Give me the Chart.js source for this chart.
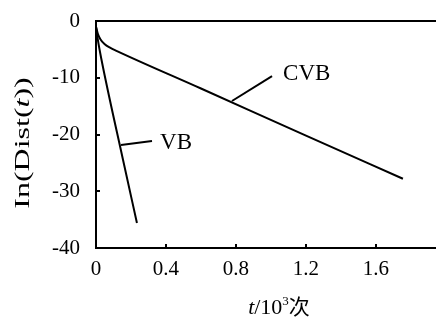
<!DOCTYPE html>
<html>
<head>
<meta charset="utf-8">
<script src="https://cdn.jsdelivr.net/npm/chart.js@4.4.1/dist/chart.umd.min.js"></script>
<style>
html, body { margin: 0; padding: 0; background: #fff; }
#wrap { width: 436px; height: 321px; }
</style>
</head>
<body>
<div id="wrap"><canvas id="dist_chart"></canvas></div>
<script>
// values (t in 10^3 steps, ln(Dist(t)))
const cvb_t = [0, 0.01, 0.025, 0.05, 0.08, 0.12, 0.6, 1.2, 1.754];
const cvb_ln = [-1.0, -2.2, -3.2, -4.1, -4.7, -5.3, -11.9, -20.2, -27.8];
const vb_t = [0, 0.01, 0.03, 0.154, 0.234];
const vb_ln = [-1.0, -3.2, -6.6, -24.4, -35.6];
const x_ticks = [0, 0.4, 0.8, 1.2, 1.6];
const y_ticks = [0, -10, -20, -30, -40];

// label anchors, in data units: leader start, leader end, text left
const vb_label = { from: [0.143, -21.85], to: [0.32, -21.15], text: [0.366, -21.5] };
const cvb_label = { from: [0.777, -14.1], to: [1.006, -9.7], text: [1.069, -9.3] };

const serif = '"Liberation Serif", "DejaVu Serif", serif';
Chart.defaults.font.family = serif;
Chart.defaults.font.size = 21;
Chart.defaults.color = '#000';

function toPoints(xs, ys) {
    return xs.map((v, i) => ({ x: v, y: ys[i] }));
}

function noPadding(s) {
    s.paddingTop = 0;
    s.paddingBottom = 0;
    s.paddingLeft = 0;
    s.paddingRight = 0;
}

const decor = {
    id: 'decor',
    afterDatasetsDraw(chart) {
        const ctx = chart.ctx;
        const x = chart.scales.x;
        const y = chart.scales.y;
        const area = chart.chartArea;
        ctx.save();
        ctx.strokeStyle = '#000';
        ctx.fillStyle = '#000';
        ctx.lineWidth = 2;

        // inward tick marks
        ctx.beginPath();
        y_ticks.slice(1, -1).forEach(v => {
            const py = Math.round(y.getPixelForValue(v));
            ctx.moveTo(area.left, py);
            ctx.lineTo(area.left + 4, py);
        });
        x_ticks.slice(1).forEach(v => {
            const px = Math.round(x.getPixelForValue(v));
            ctx.moveTo(px, area.bottom);
            ctx.lineTo(px, area.bottom - 4);
        });
        ctx.stroke();

        // series labels with leader lines
        [[vb_label, 'VB'], [cvb_label, 'CVB']].forEach(([lab, txt]) => {
            ctx.beginPath();
            ctx.moveTo(x.getPixelForValue(lab.from[0]), y.getPixelForValue(lab.from[1]));
            ctx.lineTo(x.getPixelForValue(lab.to[0]), y.getPixelForValue(lab.to[1]));
            ctx.stroke();
            ctx.font = '23px ' + serif;
            ctx.textAlign = 'left';
            ctx.textBaseline = 'middle';
            ctx.fillText(txt, x.getPixelForValue(lab.text[0]), y.getPixelForValue(lab.text[1]));
        });

        // x axis title: t/10^3次
        ctx.textBaseline = 'alphabetic';
        const parts = [
            ['t', 'italic 22px ' + serif, 0],
            ['/10', '22px ' + serif, 0],
            ['3', '13px ' + serif, -9],
            ['次', '21px "Noto Sans CJK SC", sans-serif', 0]
        ];
        let total = 0;
        parts.forEach(p => { ctx.font = p[1]; total += ctx.measureText(p[0]).width; });
        let cx = 279 - total / 2;
        parts.forEach(p => {
            ctx.font = p[1];
            ctx.fillText(p[0], cx, 314 + p[2]);
            cx += ctx.measureText(p[0]).width;
        });

        // y axis title: In(Dist(t)), rotated and stretched like the source
        const yparts = [
            ['In(Dist(', '20px ' + serif],
            ['t', 'italic 20px ' + serif],
            ['))', '20px ' + serif]
        ];
        let ytotal = 0;
        yparts.forEach(p => { ctx.font = p[1]; ytotal += ctx.measureText(p[0]).width; });
        ctx.translate(29, 143);
        ctx.rotate(-Math.PI / 2);
        ctx.scale(1.6, 1);
        let ty = -ytotal / 2;
        yparts.forEach(p => {
            ctx.font = p[1];
            ctx.fillText(p[0], ty, 0);
            ty += ctx.measureText(p[0]).width;
        });
        ctx.restore();
    }
};

const dist_chart = document.getElementById('dist_chart').getContext('2d');
new Chart(dist_chart, {
    type: 'line',
    data: {
        datasets: [{
            label: 'CVB',
            data: toPoints(cvb_t, cvb_ln),
            borderColor: '#000',
            borderWidth: 2,
            pointRadius: 0,
            cubicInterpolationMode: 'monotone',
            fill: false
        }, {
            label: 'VB',
            data: toPoints(vb_t, vb_ln),
            borderColor: '#000',
            borderWidth: 2,
            pointRadius: 0,
            cubicInterpolationMode: 'monotone',
            fill: false
        }]
    },
    options: {
        responsive: true,
        maintainAspectRatio: false,
        animation: false,
        layout: { padding: { top: 21, right: 0, bottom: 0, left: 0 } },
        plugins: {
            legend: { display: false },
            tooltip: { enabled: false },
            title: { display: false }
        },
        scales: {
            x: {
                type: 'linear',
                min: 0,
                max: 1.943,
                afterBuildTicks: s => { s.ticks = x_ticks.map(v => ({ value: v })); },
                afterFit: s => { s.height = 73; noPadding(s); },
                ticks: {
                    padding: 9,
                    maxRotation: 0,
                    callback: v => v === 0 ? '0' : v.toFixed(1)
                },
                grid: { display: false, drawTicks: false },
                border: { color: '#000', width: 2 }
            },
            y: {
                type: 'linear',
                min: -40,
                max: 0,
                afterBuildTicks: s => { s.ticks = y_ticks.map(v => ({ value: v })); },
                afterFit: s => { s.width = 96; noPadding(s); },
                ticks: { padding: 16 },
                grid: {
                    drawTicks: false,
                    lineWidth: 2,
                    color: c => c.tick && c.tick.value === 0 ? '#000' : 'rgba(0,0,0,0)'
                },
                border: { color: '#000', width: 2 }
            }
        }
    },
    plugins: [decor]
});
</script>
</body>
</html>
